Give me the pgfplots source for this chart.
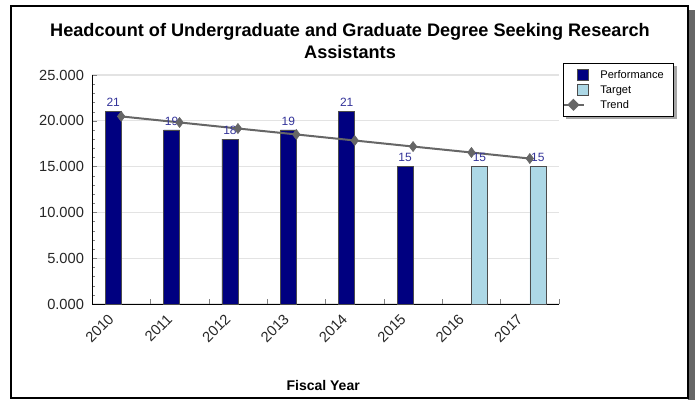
\documentclass[border=0pt]{standalone}
\usepackage{pgfplots}
\pgfplotsset{compat=1.18}
\usepackage{fontspec}
\setmainfont{Liberation Sans}

\definecolor{perf}{HTML}{000080}
\definecolor{targ}{HTML}{ADD8E6}
\definecolor{trend}{HTML}{666666}
\definecolor{lbl}{HTML}{333399}

\pgfdeclarelayer{background}
\pgfsetlayers{background,main}

\begin{document}
\begin{tikzpicture}
\useasboundingbox (0,0) rectangle (521.25pt,300pt);
% outer frame with shadow
\fill[trend] (516pt,0pt) rectangle (521.25pt,292.5pt);
\draw[line width=1.2pt] (8.25pt,1.5pt) rectangle (516pt,295.5pt);

\begin{axis}[
  at={(69pt,72pt)}, anchor=south west,
  scale only axis,
  width=350.25pt, height=171.75pt,
  xmin=-0.5, xmax=7.5,
  ymin=0, ymax=25,
  axis x line*=bottom,
  axis y line*=left,
  tick align=inside,
  major tick length=3.75pt,
  minor tick length=2.25pt,
  xtick={-0.5,0.5,...,7.5},
  xticklabels={},
  extra x ticks={0,1,2,3,4,5,6,7},
  extra x tick labels={2010,2011,2012,2013,2014,2015,2016,2017},
  extra x tick style={major tick length=0pt,
    xticklabel style={xshift=-5pt, yshift=-7pt, rotate=45, anchor=east}},
  ytick={0,5,10,15,20,25},
  minor y tick num=4,
  ymajorgrids=true,
  grid style={gray!22, line width=0.8pt},
  yticklabel style={xshift=-2.5pt, /pgf/number format/.cd, fixed, fixed zerofill, precision=3, use period, 1000 sep={}},
  /pgf/number format/assume math mode=true,
  tick label style={font=\fontsize{11}{12}\selectfont, color=black!85},
  title={Headcount of Undergraduate and Graduate Degree Seeking Research\\Assistants},
  title style={font=\fontsize{13.6}{16.5}\selectfont\bfseries, align=center,
    at={(0.5525,1.113)}, anchor=center},
  xlabel={Fiscal Year},
  xlabel style={font=\fontsize{10.5}{12}\selectfont\bfseries,
    at={(0.495,-0.355)}, anchor=center},
  legend style={name=leg, at={(1.0086,1.052)}, anchor=north west,
    font=\fontsize{8.3}{9.5}\selectfont, draw=black, line width=0.6pt,
    fill=white, inner xsep=0pt, inner ysep=3pt, row sep=0.25pt,
    nodes={text height=7pt, text depth=2pt, inner ysep=1pt, inner xsep=2pt},
    text width=53pt},
  legend cell align=left,
  nodes near coords,
  every node near coord/.append style={font=\fontsize{9}{10}\selectfont, color=lbl},
]

\addplot[ybar, bar width=12pt, bar shift=-6pt, fill=perf, draw=black!70, line width=0.4pt,
  every node near coord/.append style={xshift=-6pt},
  legend image code/.code={%
    \path (-9.75pt,0pt) (14.5pt,0pt);
    \draw[fill=perf, draw=black!70, line width=0.4pt] (0pt,-4.1pt) rectangle (8.25pt,4.1pt);}]
coordinates {
(0, 21)
(1, 19)
(2, 18)
(3, 19)
(4, 21)
(5, 15)
};
\addlegendentry{Performance}

\addplot[ybar, bar width=12pt, bar shift=6pt, fill=targ, draw=black!70, line width=0.4pt,
  every node near coord/.append style={xshift=6pt},
  legend image code/.code={%
    \path (-9.75pt,0pt) (14.5pt,0pt);
    \draw[fill=targ, draw=black!70, line width=0.4pt] (0pt,-4.1pt) rectangle (8.25pt,4.1pt);}]
coordinates {
(6, 15)
(7, 15)
};
\addlegendentry{Target}

\addplot[color=trend, line width=1.5pt, mark=diamond*, mark size=3.8pt,
  mark options={fill=trend, line width=0.4pt}, nodes near coords={},
  legend image code/.code={%
    \path (-9.75pt,0pt) (14.5pt,0pt);
    \draw[trend, line width=1.5pt] (-9.75pt,0pt) -- (5.25pt,0pt);
    \fill[trend] (-6.5pt,0pt) -- (-3pt,3.5pt) -- (0.5pt,0pt) -- (-3pt,-3.5pt) -- cycle;}]
coordinates {
(0, 20.48)
(1, 19.82)
(2, 19.16)
(3, 18.51)
(4, 17.85)
(5, 17.19)
(6, 16.54)
(7, 15.88)
};
\addlegendentry{Trend}

\end{axis}
% legend shadow
\begin{pgfonlayer}{background}
\fill[gray!70] ([shift={(2.2pt,-2.2pt)}]leg.south west) rectangle ([shift={(2.2pt,-2.2pt)}]leg.north east);
\end{pgfonlayer}
\end{tikzpicture}
\end{document}
